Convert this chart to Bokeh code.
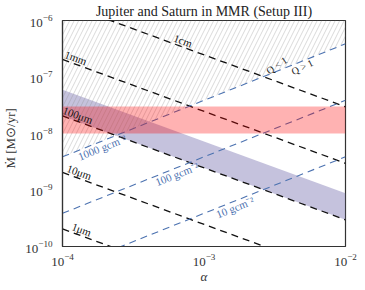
import numpy as np
from bokeh.plotting import figure
from bokeh.models import Label, BoxAnnotation, Range1d
from bokeh.embed import file_html
from bokeh.resources import INLINE

# ---- data ----
alpha_ends = [1e-4, 1e-2]

# constant grain-size lines: Mdot at alpha = 1e-4 and alpha = 1e-2
size_names = ["1cm", "1mm", "100μm", "10μm", "1μm"]
size_mdot_a4 = [2.05e-6, 2.05e-7, 2.05e-8, 2.05e-9, 2.05e-10]
size_mdot_a2 = [2.97e-8, 2.97e-9, 2.97e-10, 2.97e-11, 2.97e-12]
size_label_alpha = [6.86e-4, 1.20e-4, 1.24e-4, 1.27e-4, 1.32e-4]

# constant surface-density lines
sigma_names = ["1000 gcm⁻²", "100 gcm⁻²", "10 gcm⁻²"]
sigma_mdot_a4 = [3.86e-9, 3.86e-10, 3.86e-11]
sigma_mdot_a2 = [3.86e-7, 3.86e-8, 3.86e-9]
sigma_label_alpha = [1.84e-4, 6.2e-4, 1.60e-3]

# purple band (grain sizes between 100 μm and ~300 μm)
band_upper = [5.97e-8, 8.77e-10]
band_lower = [2.05e-8, 2.97e-10]

# red band (accretion-rate range)
mdot_band = [1e-8, 3e-8]

# Toomre line labels
q_label_alpha = [3.44e-3, 4.76e-3]

title_text = "Jupiter and Saturn in MMR (Setup III)"

XR = (1e-4, 1e-2)
YR = (1e-10, 1e-6)
FW, FH = 283, 226

serif = "Liberation Serif"
blue = "#4c72b0"


def line_at(a, y0, y1):
    la0, la1 = np.log10(alpha_ends)
    t = (np.log10(a) - la0) / (la1 - la0)
    return 10 ** (np.log10(y0) + t * (np.log10(y1) - np.log10(y0)))


def px_angle(y0, y1):
    slope = (np.log10(y1) - np.log10(y0)) / (np.log10(alpha_ends[1]) - np.log10(alpha_ends[0]))
    sx = FW / (np.log10(XR[1]) - np.log10(XR[0]))
    sy = FH / (np.log10(YR[1]) - np.log10(YR[0]))
    return float(np.arctan(slope * sy / sx))


p = figure(frame_width=FW, frame_height=FH, x_axis_type="log", y_axis_type="log",
           x_range=Range1d(*XR), y_range=Range1d(*YR),
           output_backend="svg", toolbar_location=None,
           min_border_left=55, min_border_right=19, min_border_bottom=36, min_border_top=15,
           title=title_text)
p.title.align = "center"
p.title.text_font = serif
p.title.text_font_style = "normal"
p.title.text_font_size = "14px"
p.title.standoff = 3
p.title.offset = 0
p.title.text_color = "#222222"

p.grid.visible = False
p.outline_line_color = "#333333"
p.outline_line_width = 1.2
for ax in (p.xaxis, p.yaxis):
    ax.axis_line_color = "#333333"
    ax.axis_line_width = 1.2
    ax.major_tick_line_color = None
    ax.minor_tick_line_color = None
    ax.major_label_text_font = serif
    ax.major_label_text_font_size = "13px"
    ax.major_label_text_color = "#333333"
    ax.axis_label_text_font = serif
    ax.axis_label_text_font_style = "normal"
    ax.axis_label_text_font_size = "13px"
    ax.axis_label_text_color = "#333333"
p.xaxis.ticker = [1e-4, 1e-3, 1e-2]
p.yaxis.ticker = [1e-10, 1e-9, 1e-8, 1e-7, 1e-6]
p.xaxis.axis_label = "α"
p.xaxis.axis_label_text_font_style = "italic"
p.yaxis.axis_label = "Ṁ    [M⊙/yr]"
p.xaxis.major_label_standoff = 1
p.yaxis.major_label_standoff = 4
p.xaxis.axis_label_standoff = 0
p.yaxis.axis_label_standoff = 4

# bands
p.varea(x=alpha_ends, y1=band_lower, y2=band_upper, fill_color="#8c86bb", fill_alpha=0.5)
p.add_layout(BoxAnnotation(bottom=mdot_band[0], top=mdot_band[1],
                           fill_color="red", fill_alpha=0.3, line_color=None))

# hatched region Q<1 (above 1000 g/cm^2 line)
q_top = [YR[1], YR[1]]
p.varea(x=alpha_ends, y1=sigma_mdot_a4[:1] + sigma_mdot_a2[:1], y2=q_top,
        fill_alpha=0, hatch_pattern="/", hatch_color="#8a8a8a",
        hatch_alpha=0.65, hatch_weight=0.5, hatch_scale=9)

# lines
for y0, y1 in zip(size_mdot_a4, size_mdot_a2):
    p.line(alpha_ends, [y0, y1], line_color="#111111", line_width=1.3, line_dash="7 5")
for y0, y1 in zip(sigma_mdot_a4, sigma_mdot_a2):
    p.line(alpha_ends, [y0, y1], line_color=blue, line_width=1.1, line_dash="7 5")

# labels
for name, a, y0, y1 in zip(size_names, size_label_alpha, size_mdot_a4, size_mdot_a2):
    p.add_layout(Label(x=a, y=line_at(a, y0, y1), text=name, angle=px_angle(y0, y1),
                       text_align="center", text_baseline="bottom",
                       text_font=serif, text_font_size="11px", text_color="#111111"))
for name, a, y0, y1 in zip(sigma_names, sigma_label_alpha, sigma_mdot_a4, sigma_mdot_a2):
    p.add_layout(Label(x=a, y=line_at(a, y0, y1), text=name, angle=px_angle(y0, y1),
                       text_align="center", text_baseline="top",
                       text_font=serif, text_font_size="11px", text_color=blue))

qa, qb = q_label_alpha
p.add_layout(Label(x=qa, y=line_at(qa, sigma_mdot_a4[0], sigma_mdot_a2[0]), text="Q < 1",
                   angle=0.6, text_align="center", text_baseline="bottom",
                   text_font=serif, text_font_size="10px", text_color="#222222"))
p.add_layout(Label(x=qb, y=line_at(qb, sigma_mdot_a4[0], sigma_mdot_a2[0]), text="Q > 1",
                   angle=0.45, text_align="center", text_baseline="top",
                   text_font=serif, text_font_size="10px", text_color="#222222"))

open("out.html", "w").write(file_html(p, INLINE))
